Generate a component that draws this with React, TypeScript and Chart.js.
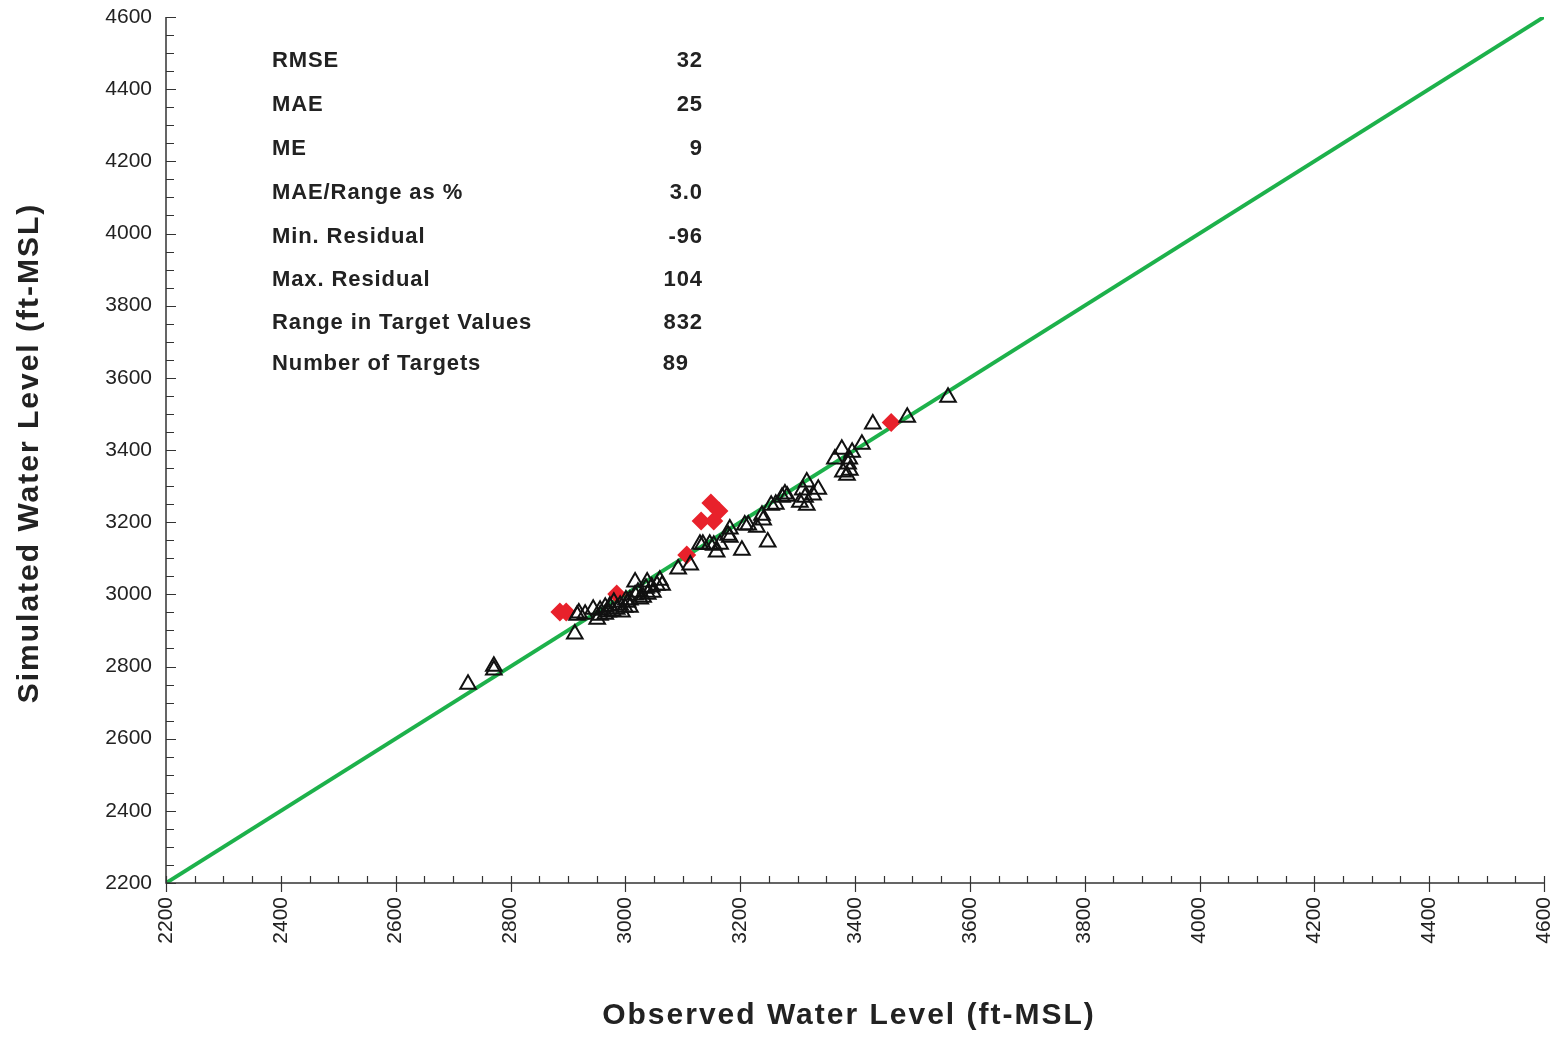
import React, { useEffect, useRef } from "react";
import { Chart, registerables } from "chart.js";

Chart.register(...registerables);

// Observed vs simulated (triangles)
const triObserved = [
  2726, 2771, 2771, 2916, 2912, 2944, 2951, 2956, 2965, 2970,
  2973, 2985, 2991, 2999, 3008, 3008, 3017, 3017, 3022, 3026,
  3038, 3039, 3048, 3055, 3064, 3060, 3092, 3113, 3135, 3147,
  3159, 3165, 3182, 3182, 3203, 3208, 3214, 3229, 3238, 3240,
  3248, 3254, 3262, 3278, 3282, 3304, 3309, 3316, 3316, 3327,
  3336, 3365, 3377, 3379, 3388, 3386, 3395, 3412, 3431, 3491,
  3562, 2930, 2978, 2994, 3004, 3031, 3046, 2980, 2965, 3001,
  3036, 3391, 3390, 3130, 3154, 3179, 3273, 3313, 2919, 2956,
];
const triSimulated = [
  2751, 2801, 2790, 2942, 2890, 2959, 2931, 2956, 2945, 2951,
  2967, 2959, 2970, 2964, 2964, 2984, 3034, 2998, 3006, 2987,
  3034, 3000, 3006, 3025, 3025, 3039, 3070, 3081, 3139, 3139,
  3117, 3139, 3181, 3158, 3122, 3192, 3192, 3186, 3219, 3206,
  3145, 3247, 3250, 3278, 3272, 3255, 3289, 3311, 3247, 3275,
  3291, 3375, 3402, 3339, 3361, 3330, 3394, 3416, 3472, 3491,
  3546, 2945, 2953, 2951, 2978, 2992, 3020, 2978, 2964, 2984,
  3017, 3344, 3375, 3139, 3136, 3164, 3269, 3269, 2948, 2942,
];

// Red diamonds
const redObserved = [2886, 2897, 2985, 3107, 3132, 3149, 3163, 3154, 3463];
const redSimulated = [2951, 2951, 3001, 3109, 3203, 3253, 3231, 3203, 3476];

// 1:1 line
const lineValues = [2200, 4600];

const axisMin = 2200;
const axisMax = 4600;
const majorStep = 200;
const minorStep = 50;

const statLabels = [
  "RMSE",
  "MAE",
  "ME",
  "MAE/Range as %",
  "Min. Residual",
  "Max. Residual",
  "Range in Target Values",
  "Number of Targets",
];
const statValues = ["32", "25", "9", "3.0", "-96", "104", "832", "89"];

const xTitle = "Observed Water Level (ft-MSL)";
const yTitle = "Simulated Water Level (ft-MSL)";

const FONT = '"Liberation Sans", Arial, Helvetica, sans-serif';

export default function App() {
  const canvasRef = useRef<HTMLCanvasElement | null>(null);

  useEffect(() => {
    const canvas = canvasRef.current;
    if (!canvas) return;

    const decorPlugin = {
      id: "decor",
      afterDraw(chart: any) {
        const ctx = chart.ctx as CanvasRenderingContext2D;
        const xs = chart.scales.x;
        const ys = chart.scales.y;
        const area = chart.chartArea;
        ctx.save();
        // axis lines
        ctx.strokeStyle = "#333";
        ctx.lineWidth = 1.5;
        ctx.beginPath();
        ctx.moveTo(area.left, area.top);
        ctx.lineTo(area.left, area.bottom);
        ctx.lineTo(area.right, area.bottom);
        ctx.stroke();
        // ticks
        ctx.lineWidth = 1.2;
        ctx.beginPath();
        for (let v = axisMin; v <= axisMax; v += minorStep) {
          const major = (v - axisMin) % majorStep === 0;
          const px = Math.round(xs.getPixelForValue(v)) + 0.5;
          ctx.moveTo(px, area.bottom - 7);
          ctx.lineTo(px, area.bottom + (major ? 9 : 0));
          const py = Math.round(ys.getPixelForValue(v)) + 0.5;
          ctx.moveTo(area.left, py);
          ctx.lineTo(area.left + (major ? 10 : 8), py);
        }
        ctx.stroke();

        // stats text
        ctx.fillStyle = "#222";
        ctx.font = `bold 22px ${FONT}`;
        (ctx as any).letterSpacing = "0.9px";
        ctx.textBaseline = "middle";
        const rowY = [61, 105, 149, 193, 237, 280, 323, 364];
        statLabels.forEach((lab, i) => {
          ctx.textAlign = "left";
          ctx.fillText(lab, area.left + 106, rowY[i]);
          ctx.textAlign = "right";
          const rx = i === statLabels.length - 1 ? area.left + 523 : area.left + 537;
          ctx.fillText(statValues[i], rx, rowY[i]);
        });

        // axis titles
        ctx.font = `bold 30px ${FONT}`;
        (ctx as any).letterSpacing = "2px";
        ctx.textAlign = "center";
        ctx.textBaseline = "middle";
        ctx.fillText(xTitle, (area.left + area.right) / 2 - 6, 1016);
        ctx.save();
        ctx.translate(30, (area.top + area.bottom) / 2 + 3);
        ctx.rotate(-Math.PI / 2);
        ctx.fillText(yTitle, 0, 0);
        ctx.restore();
        (ctx as any).letterSpacing = "0px";
        ctx.restore();
      },
    };

    const chart = new Chart(canvas, {
      type: "scatter",
      data: {
        datasets: [
          {
            label: "1:1",
            data: lineValues.map((v) => ({ x: v, y: v })),
            showLine: true,
            borderColor: "#1db14b",
            borderWidth: 4,
            pointRadius: 0,
            order: 3,
          },
          {
            label: "red",
            data: redObserved.map((x, i) => ({ x, y: redSimulated[i] })),
            pointStyle: "rectRot",
            pointRadius: 9.5,
            backgroundColor: "#e8212b",
            borderColor: "#e8212b",
            borderWidth: 0,
            order: 2,
          },
          {
            label: "targets",
            data: triObserved.map((x, i) => ({ x, y: triSimulated[i] })),
            pointStyle: "triangle",
            pointRadius: 9,
            backgroundColor: "rgba(0,0,0,0)",
            borderColor: "#111",
            borderWidth: 2,
            order: 1,
          },
        ],
      },
      options: {
        animation: false,
        responsive: true,
        maintainAspectRatio: false,
        layout: { padding: { left: 0, top: 17, right: 20, bottom: 0 } },
        plugins: {
          legend: { display: false },
          tooltip: { enabled: false },
        },
        scales: {
          x: {
            type: "linear",
            min: axisMin,
            max: axisMax,
            grid: { display: false, drawTicks: false },
            border: { display: false },
            ticks: {
              stepSize: majorStep,
              minRotation: 90,
              maxRotation: 90,
              padding: 14,
              color: "#222",
              font: { family: FONT, size: 21 },
              callback: (v: any) => String(v),
            },
            afterFit(scale: any) {
              scale.height = 154;
              scale.paddingLeft = 0;
              scale.paddingRight = 0;
            },
          },
          y: {
            type: "linear",
            min: axisMin,
            max: axisMax,
            grid: { display: false, drawTicks: false },
            border: { display: false },
            ticks: {
              stepSize: majorStep,
              padding: 14,
              color: "#222",
              font: { family: FONT, size: 21 },
              callback: (v: any) => String(v),
            },
            afterFit(scale: any) {
              scale.width = 166;
              scale.paddingTop = 0;
              scale.paddingBottom = 0;
            },
          },
        },
      },
      plugins: [decorPlugin],
    });

    return () => chart.destroy();
  }, []);

  return (
    <div style={{ position: "absolute", left: 0, top: 0, width: 1564, height: 1037, background: "#fff" }}>
      <canvas ref={canvasRef} />
    </div>
  );
}
